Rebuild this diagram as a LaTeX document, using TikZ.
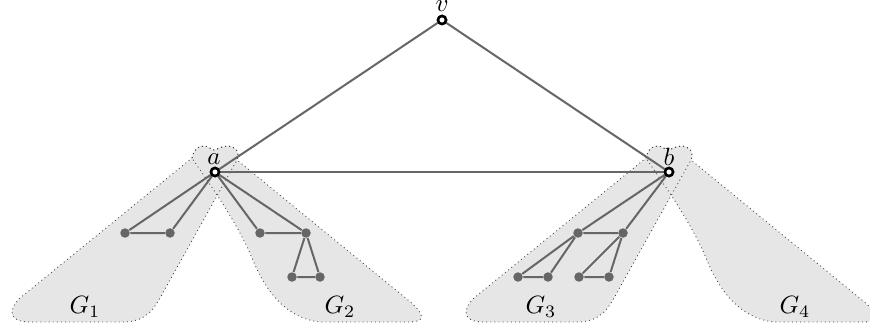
\documentclass[tikz,border=0pt]{standalone}
\definecolor{eg}{HTML}{666666}
\definecolor{sf}{HTML}{E6E6E6}
\newcommand\pathGL{(192,158) .. controls (194,150) and (197,146) .. (204,146)
  .. controls (209,146) and (211,150) .. (214,150)
  .. controls (217,150) and (221,146) .. (228,146)
  .. controls (236,147) and (240,152) .. (237,160)
  -- (160,298) .. controls (150,316) and (140,322) .. (122,322)
  -- (30,322) .. controls (8,322) and (8,310) .. (20,298) -- cycle}
\newcommand\pathGR{(192,158) .. controls (194,150) and (197,146) .. (204,146)
  .. controls (209,146) and (211,150) .. (214,150)
  .. controls (217,150) and (221,146) .. (228,146)
  .. controls (236,147) and (240,152) .. (237,160)
  -- (408,300) .. controls (425,314) and (426,322) .. (410,322)
  -- (320,322) .. controls (285,318) and (265,290) .. (252,258)
  .. controls (236,220) and (210,185) .. (192,158) -- cycle}
\begin{document}
\begin{tikzpicture}[x=0.4pt,y=-0.4pt,
  sfill/.style={fill=sf},
  sline/.style={draw=black!75,line width=0.35pt,dash pattern=on 0.35pt off 1.3pt},
  gn/.style={circle,fill=eg,inner sep=0pt,minimum size=3.8pt},
  wn/.style={circle,draw=black,fill=white,line width=1pt,inner sep=0pt,minimum size=3.2pt},
  ed/.style={draw=eg,line width=0.8pt},
  lab/.style={inner sep=0pt}]
\useasboundingbox (0,0) rectangle (870,332);
% regions
\fill[sfill] \pathGL;
\fill[sfill] \pathGR;
\begin{scope}[shift={(454,0)}]
\fill[sfill] \pathGL;
\fill[sfill] \pathGR;
\end{scope}
\draw[sline] \pathGL;
\draw[sline] \pathGR;
\begin{scope}[shift={(454,0)}]
\draw[sline] \pathGL;
\draw[sline] \pathGR;
\end{scope}
% main nodes
\node[wn] (v) at (442,20) {};
\node[wn] (a) at (215,172) {};
\node[wn] (b) at (669,172) {};
% G1
\node[gn] (p1) at (125,233) {};
\node[gn] (p2) at (170,233) {};
% G2
\node[gn] (q1) at (260,233) {};
\node[gn] (q2) at (306,233) {};
\node[gn] (q3) at (292,277) {};
\node[gn] (q4) at (320,277) {};
% G3
\node[gn] (r1) at (578,233) {};
\node[gn] (r2) at (623,233) {};
\node[gn] (r3) at (518,277) {};
\node[gn] (r4) at (548,277) {};
\node[gn] (r5) at (579,277) {};
\node[gn] (r6) at (609,277) {};
% edges
\draw[ed] (v.center) -- (a.center);
\draw[ed] (v.center) -- (b.center);
\draw[ed] (a.center) -- (b.center);
\draw[ed] (a.center) -- (p1) -- (p2) -- (a.center);
\draw[ed] (a.center) -- (q1) -- (q2) -- (a.center);
\draw[ed] (q2) -- (q3) -- (q4) -- (q2);
\draw[ed] (b.center) -- (r1) -- (r2) -- (b.center);
\draw[ed] (r1) -- (r3) -- (r4) -- (r1);
\draw[ed] (r2) -- (r5) -- (r6) -- (r2);
\node[wn] at (v) {};
\node[wn] at (a) {};
\node[wn] at (b) {};
% labels
\node[lab] (lv) at (442,6.5) {$v$};
\node[lab] (la) at (214,159) {$a$};
\node[lab] (lb) at (669,157) {$b$};
\node[lab] (l1) at (85,307) {$G_1$};
\node[lab] (l2) at (340,307) {$G_2$};
\node[lab] (l3) at (541,307) {$G_3$};
\node[lab] (l4) at (795,307) {$G_4$};
\end{tikzpicture}
\end{document}
